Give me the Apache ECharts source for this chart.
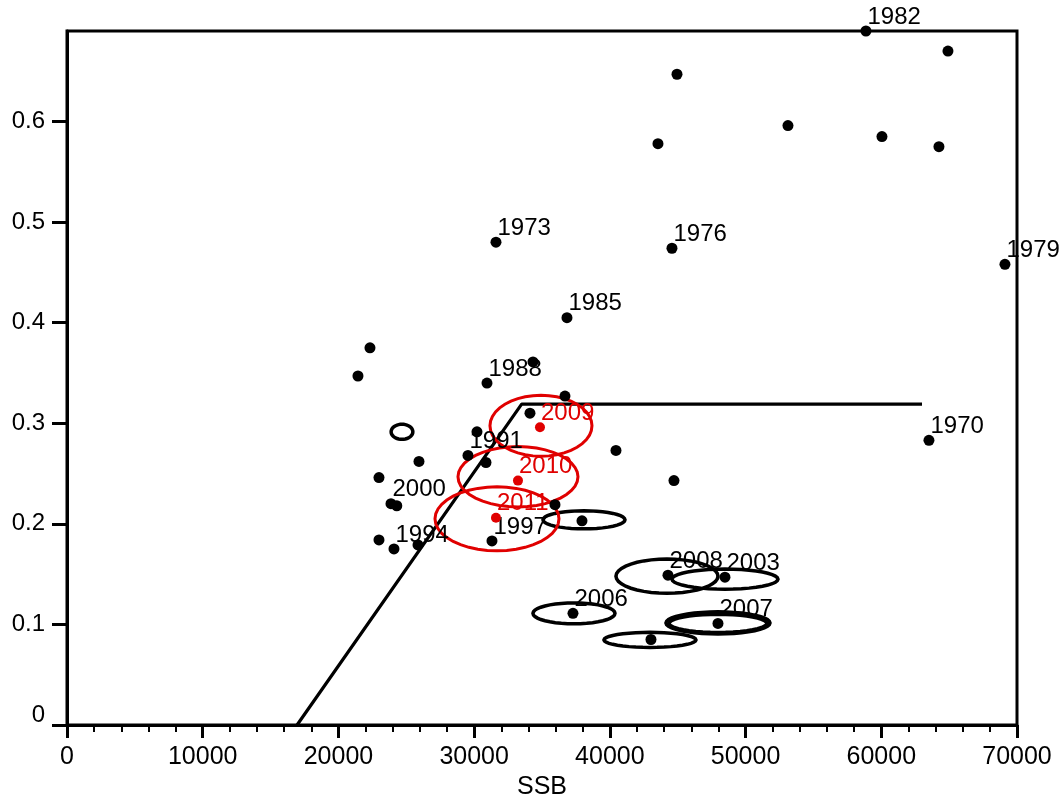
<!DOCTYPE html>
<html><head><meta charset="utf-8">
<script src="https://cdn.jsdelivr.net/npm/echarts@6/dist/echarts.min.js"></script>
<style>html,body{margin:0;padding:0;background:#fff}#c{width:1063px;height:799px}</style>
</head><body><div id="c"></div>
<script>
// Labelled years (black)
const blackYears = ['1970','1973','1976','1979','1982','1985','1988','1991','1994','1997','2000','2003','2006','2007','2008'];
const blackSSB   = [63512, 31609, 44576, 69112, 58870, 36840, 30946, 29546, 24093, 31314, 23872, 48481, 37282, 47966, 44282];
const blackF     = [0.283, 0.480, 0.474, 0.458, 0.690, 0.405, 0.340, 0.268, 0.175, 0.183, 0.220, 0.147, 0.111, 0.101, 0.149];
// Labelled recent years (red)
const redYears = ['2009','2010','2011'];
const redSSB   = [34851, 33230, 31609];
const redF     = [0.296, 0.243, 0.206];
// Unlabelled years
const otherSSB = [64913, 44947, 43545, 53123, 60049, 64249, 22325, 21440, 34335, 36693, 34114, 30209, 30872, 40450, 25935, 22988, 44724, 35956, 37945, 22988, 25862, 43029, 24300];
const otherF   = [0.670, 0.647, 0.578, 0.596, 0.585, 0.575, 0.375, 0.347, 0.361, 0.327, 0.310, 0.2915, 0.261, 0.273, 0.262, 0.246, 0.243, 0.219, 0.203, 0.184, 0.179, 0.085, 0.218];
// Confidence ellipses: centre and semi-axes (data units)
const blackEllCx = [24683, 38093, 44208, 48481, 37356, 47966, 47966, 42955];
const blackEllCy = [0.2915, 0.204, 0.148, 0.145, 0.111, 0.1015, 0.101, 0.0846];
const blackEllRx = [800, 3021, 3758, 3905, 3021, 3831, 3600, 3389];
const blackEllRy = [0.0075, 0.009, 0.017, 0.010, 0.0104, 0.011, 0.009, 0.0075];
const redEllCx = [34924, 33230, 31683];
const redEllCy = [0.2975, 0.2468, 0.205];
const redEllRx = [3758, 4421, 4568];
const redEllRy = [0.0303, 0.030, 0.0318];
// Stock-recruitment (hockey-stick) reference line
const refSSB = [16950, 33500, 63000];
const refF   = [0, 0.319, 0.319];
// Axis ticks
const xTicks = [0, 10000, 20000, 30000, 40000, 50000, 60000, 70000];
const yTicks = [0, 0.1, 0.2, 0.3, 0.4, 0.5, 0.6];

const RED = '#e00000';
const zip = (a, b) => a.map((v, i) => [v, b[i]]);
const ellData = (cx, cy, rx, ry) => cx.map((v, i) => [v, cy[i], rx[i], ry[i]]);

function ellipseRenderer(color, width) {
  return function (params, api) {
    const cx = api.value(0), cy = api.value(1), rx = api.value(2), ry = api.value(3);
    const pts = [];
    const n = 40;
    for (let i = 0; i < n; i++) {
      const t = i / n * 2 * Math.PI;
      pts.push(api.coord([cx + rx * Math.cos(t), cy + ry * Math.sin(t)]));
    }
    return { type: 'polygon', shape: { points: pts }, style: { fill: 'none', stroke: color, lineWidth: width } };
  };
}

const axisFont = 'Liberation Sans, Arial, sans-serif';
const chart = echarts.init(document.getElementById('c'), null, { renderer: 'canvas' });
chart.setOption({
  animation: false,
  backgroundColor: '#fff',
  grid: { left: 67, right: 46, top: 31, bottom: 74, outerBoundsMode: 'none', containLabel: false,
    show: true, borderColor: '#000', borderWidth: 3, backgroundColor: 'transparent' },
  xAxis: {
    type: 'value', min: 0, max: 70000, interval: 10000,
    name: 'SSB', nameLocation: 'middle', nameGap: 46,
    nameTextStyle: { fontFamily: axisFont, fontSize: 25, color: '#000' },
    axisLine: { show: true, onZero: false, lineStyle: { color: '#000', width: 3 } },
    axisTick: { show: true, length: 13, lineStyle: { color: '#000', width: 3 }, customValues: xTicks },
    minorTick: { show: true, splitNumber: 5, length: 7, lineStyle: { color: '#000', width: 2 } },
    axisLabel: { customValues: xTicks, margin: 20, fontFamily: axisFont, fontSize: 25, color: '#000',
      formatter: v => String(v) },
    splitLine: { show: false }
  },
  yAxis: {
    type: 'value', min: 0, max: 0.69,
    axisLine: { show: true, onZero: false, lineStyle: { color: '#000', width: 3 } },
    axisTick: { show: true, length: 15, lineStyle: { color: '#000', width: 3 }, customValues: yTicks },
    axisLabel: {
      customValues: yTicks, margin: 22, fontFamily: axisFont, fontSize: 24, color: '#000',
      formatter: v => v === 0 ? '{z|0}' : v.toFixed(1),
      rich: { z: { fontFamily: axisFont, fontSize: 24, color: '#000', padding: [0, 0, 20, 0] } }
    },
    splitLine: { show: false }
  },
  series: [
    {
      type: 'line', data: zip(refSSB, refF), symbol: 'none', silent: true,
      lineStyle: { color: '#000', width: 3.2 }, z: 3
    },
    {
      type: 'custom', data: ellData(blackEllCx, blackEllCy, blackEllRx, blackEllRy),
      encode: { x: 0, y: 1 }, renderItem: ellipseRenderer('#000', 3.5), clip: false, z: 2
    },
    {
      type: 'custom', data: ellData(redEllCx, redEllCy, redEllRx, redEllRy),
      encode: { x: 0, y: 1 }, renderItem: ellipseRenderer(RED, 3), clip: false, z: 4
    },
    {
      type: 'scatter', data: zip(otherSSB, otherF), symbol: 'circle', symbolSize: 11, clip: false,
      itemStyle: { color: '#000', opacity: 1 }, z: 5
    },
    {
      type: 'scatter', data: blackSSB.map((v, i) => ({ value: [v, blackF[i]], name: blackYears[i] })),
      symbol: 'circle', symbolSize: 11, clip: false, itemStyle: { color: '#000', opacity: 1 }, z: 5,
      label: { show: true, formatter: p => p.name, position: 'right', distance: 0, offset: [-4, -14],
        fontFamily: axisFont, fontSize: 24, color: '#000', opacity: 1 }
    },
    {
      type: 'scatter', data: redSSB.map((v, i) => ({ value: [v, redF[i]], name: redYears[i] })),
      symbol: 'circle', symbolSize: 10, clip: false, itemStyle: { color: RED, opacity: 1 }, z: 6,
      label: { show: true, formatter: p => p.name, position: 'right', distance: 0, offset: [-4, -14],
        fontFamily: axisFont, fontSize: 24, color: RED, opacity: 1 }
    }
  ]
});
</script>
</body></html>
